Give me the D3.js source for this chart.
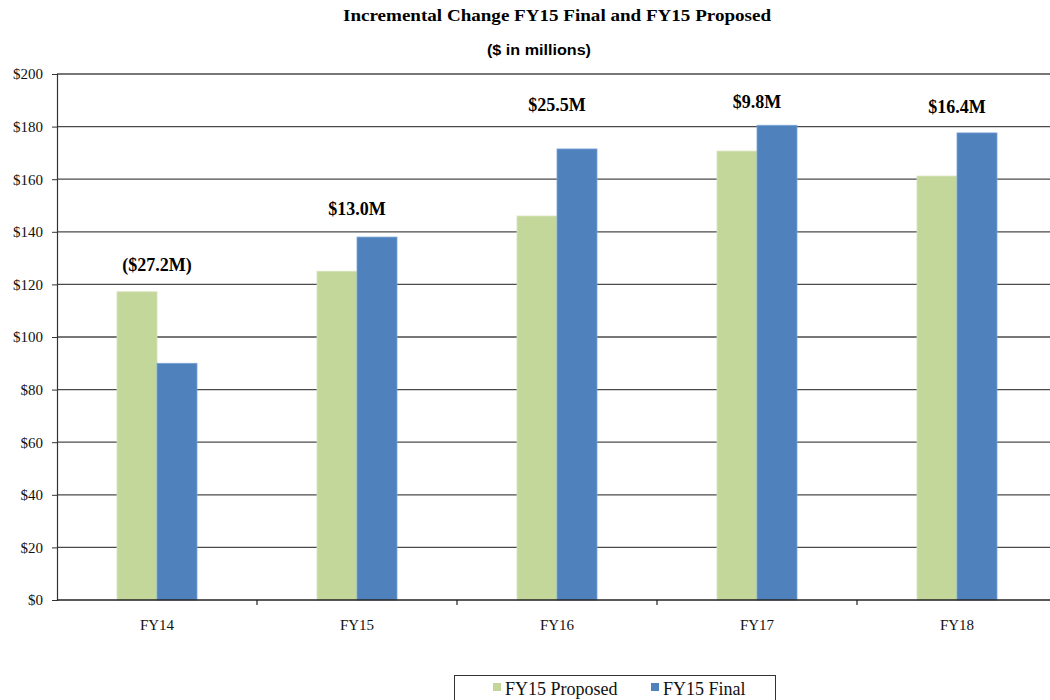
<!DOCTYPE html>
<html><head><meta charset="utf-8">
<script src="https://cdn.jsdelivr.net/npm/d3@7"></script>
<style>body{margin:0;background:#fff;} svg{display:block;}</style>
</head><body>
<svg id="c" width="1050" height="700"></svg>
<script>
const categories = ["FY14","FY15","FY16","FY17","FY18"];
const proposed = [117.2, 125.0, 146.0, 170.7, 161.2];
const final = [90.0, 138.0, 171.5, 180.5, 177.6];
const changeLabels = ["($27.2M)","$13.0M","$25.5M","$9.8M","$16.4M"];
const labelLevel = [127.4, 148.7, 188.2, 189.4, 187.5];
const yTicks = [0,20,40,60,80,100,120,140,160,180,200];
const seriesNames = ["FY15 Proposed","FY15 Final"];
const colors = ["#C4D79B","#4F81BD"];

const svg = d3.select("#c");
const L = 57, R = 1057, T = 74, B = 600;
const x = d3.scaleBand().domain(categories).range([L, R]);
const y = d3.scaleLinear().domain([0,200]).range([B, T]);
const barW = 40;

// title
svg.append("text").attr("x",557).attr("y",21).attr("text-anchor","middle")
  .attr("font-family","Liberation Serif").attr("font-weight","bold").attr("font-size",16)
  .attr("textLength",428).attr("lengthAdjust","spacingAndGlyphs")
  .text("Incremental Change FY15 Final and FY15 Proposed");
svg.append("text").attr("x",539).attr("y",55).attr("text-anchor","middle")
  .attr("font-family","Liberation Sans").attr("font-weight","bold").attr("font-size",14.5)
  .attr("textLength",104).attr("lengthAdjust","spacingAndGlyphs")
  .text("($ in millions)");

// gridlines
svg.append("g").selectAll("line").data(yTicks.filter(d=>d>0)).join("line")
  .attr("x1",L).attr("x2",1050).attr("y1",d=>y(d)).attr("y2",d=>y(d))
  .attr("stroke","#4a4a4a").attr("stroke-width",1.3);

// bars
const g = svg.append("g");
categories.forEach((c,i)=>{
  const cx = x(c) + x.bandwidth()/2;
  g.append("rect").attr("x",cx-barW).attr("width",barW)
    .attr("y",y(proposed[i])).attr("height",B-y(proposed[i])).attr("fill",colors[0])
    .attr("stroke","#d6e4bb").attr("stroke-width",0.8);
  g.append("rect").attr("x",cx).attr("width",barW)
    .attr("y",y(final[i])).attr("height",B-y(final[i])).attr("fill",colors[1])
    .attr("stroke","#7aa3d6").attr("stroke-width",0.8);
  svg.append("text").attr("x",cx).attr("y",y(labelLevel[i])+6).attr("text-anchor","middle")
    .attr("font-family","Liberation Serif").attr("font-weight","bold").attr("font-size",18)
    .text(changeLabels[i]);
});

// y axis
const yAxis = d3.axisLeft(y).tickValues(yTicks).tickSize(5).tickFormat(d=>"$"+d);
const ya = svg.append("g").attr("transform",`translate(${L},0)`).call(yAxis);
ya.select(".domain").attr("stroke","#333").attr("stroke-width",1.2);
ya.selectAll(".tick line").attr("stroke","#333");
ya.selectAll(".tick text").attr("font-family","Liberation Serif").attr("font-size",15)
  .attr("fill","#111").attr("x",-14);

// x axis
const xa = svg.append("g").attr("transform",`translate(0,${B})`)
  .call(d3.axisBottom(x).tickSize(0).tickPadding(19));
xa.select(".domain").remove();
svg.append("line").attr("x1",L).attr("x2",1050).attr("y1",B).attr("y2",B)
  .attr("stroke","#222").attr("stroke-width",1.3);
svg.append("g").selectAll("line").data(categories.slice(1)).join("line")
  .attr("x1",d=>x(d)).attr("x2",d=>x(d)).attr("y1",B).attr("y2",B+5)
  .attr("stroke","#222").attr("stroke-width",1.2);
xa.selectAll(".tick text").attr("font-family","Liberation Serif").attr("font-size",15).attr("fill","#111");

// legend
const lg = svg.append("g");
lg.append("rect").attr("x",454.5).attr("y",675.5).attr("width",321).attr("height",30)
  .attr("fill","#fff").attr("stroke","#333").attr("stroke-width",1);
const lx = [493, 651];
seriesNames.forEach((n,i)=>{
  lg.append("rect").attr("x",lx[i]).attr("y",683).attr("width",8).attr("height",8).attr("fill",colors[i]);
  lg.append("text").attr("x",lx[i]+12).attr("y",695).attr("font-family","Liberation Serif")
    .attr("font-size",18).attr("fill","#111").text(n);
});
</script>
</body></html>
